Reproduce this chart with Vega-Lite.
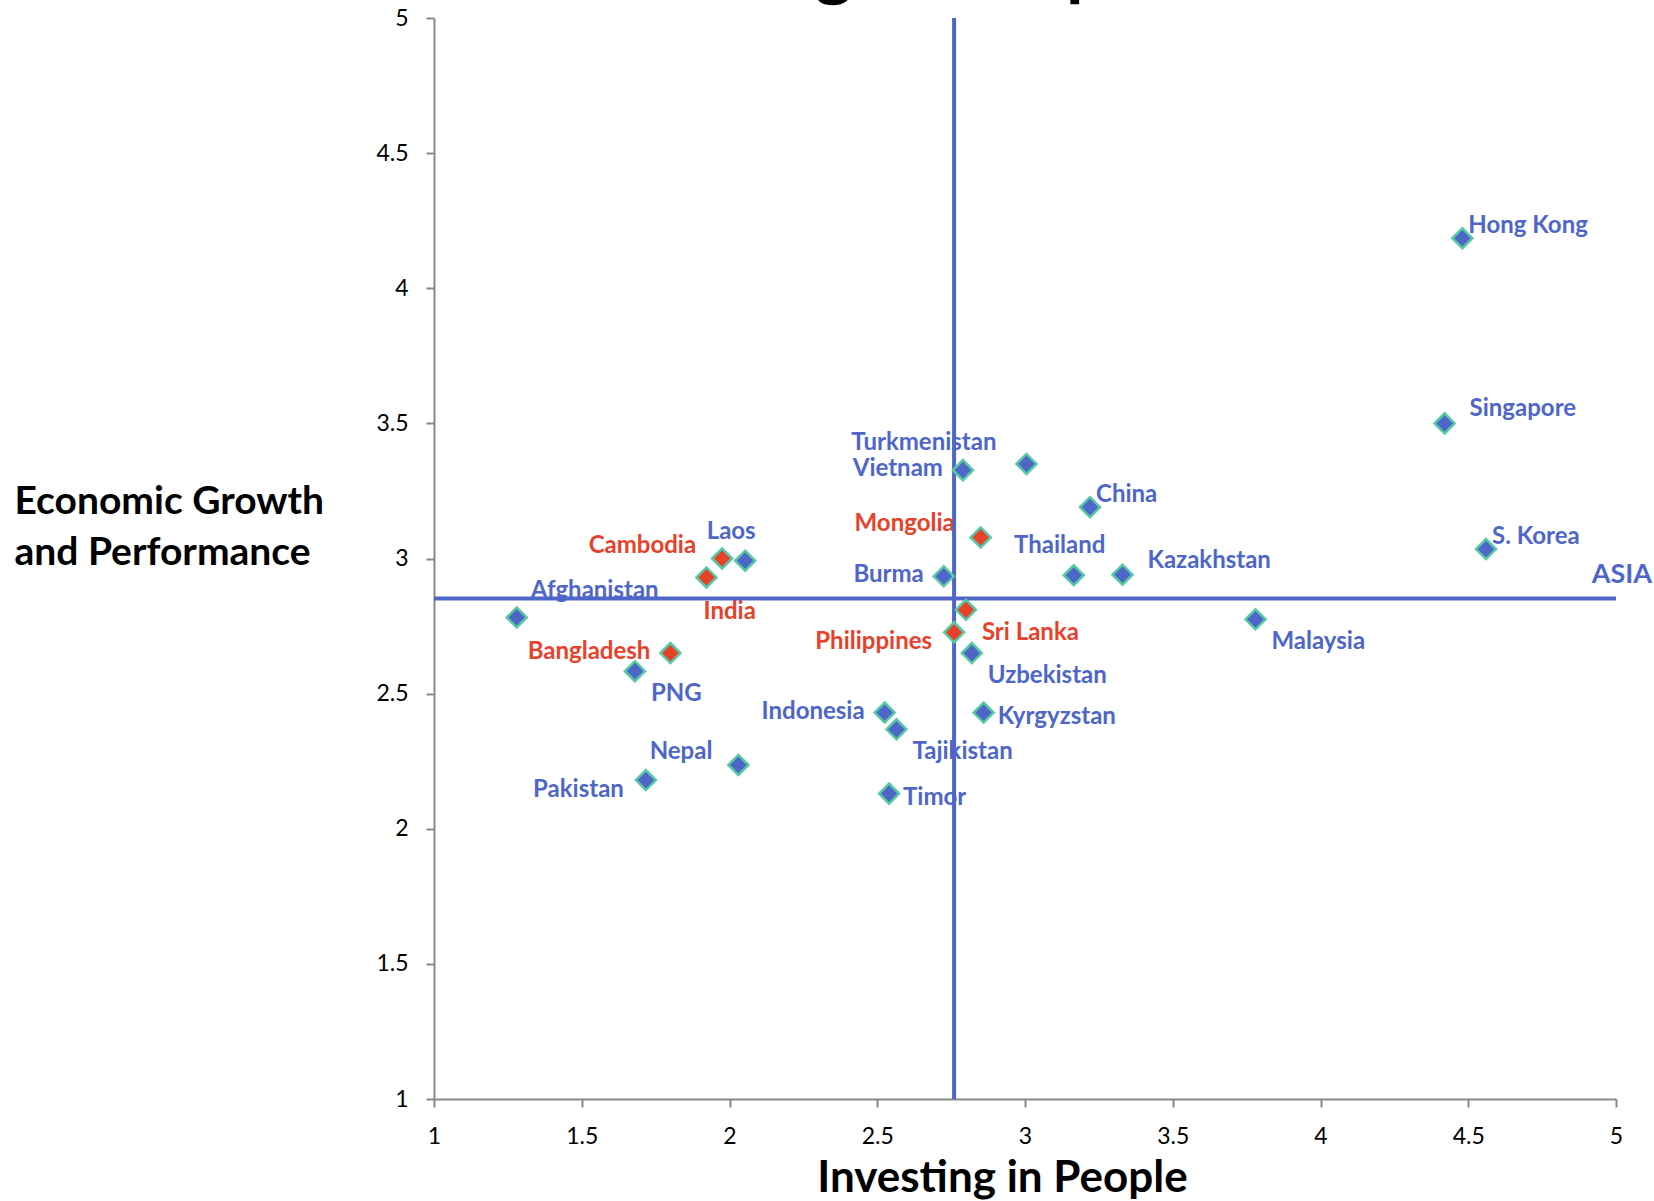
{
  "$schema": "https://vega.github.io/schema/vega-lite/v6.json",
  "width": 1182,
  "height": 1081,
  "autosize": {"type": "none"},
  "padding": {"left": 434, "top": 18, "right": 38, "bottom": 102},
  "title": {
    "text": "Investing in People and Economic Growth",
    "frame": "group",
    "anchor": "start",
    "dx": 130,
    "offset": -56,
    "baseline": "alphabetic",
    "font": "Lato",
    "fontSize": 71,
    "fontWeight": "bold",
    "color": "#000000"
  },
  "datasets": {
    "countries": [
      {"country": "Hong Kong", "investing": 4.48, "growth": 4.185, "group": "other", "labelPos": "ne"},
      {"country": "Singapore", "investing": 4.42, "growth": 3.5, "group": "other", "labelPos": "ne2"},
      {"country": "S. Korea", "investing": 4.56, "growth": 3.035, "group": "other", "labelPos": "ne"},
      {"country": "Malaysia", "investing": 3.78, "growth": 2.775, "group": "other", "labelPos": "se"},
      {"country": "Kazakhstan", "investing": 3.33, "growth": 2.94, "group": "other", "labelPos": "ne2"},
      {"country": "Thailand", "investing": 3.165, "growth": 2.938, "group": "other", "labelPos": "n"},
      {"country": "China", "investing": 3.22, "growth": 3.19, "group": "other", "labelPos": "ne"},
      {"country": "Turkmenistan", "investing": 3.005, "growth": 3.35, "group": "other", "labelPos": "nw2"},
      {"country": "Vietnam", "investing": 2.79, "growth": 3.327, "group": "other", "labelPos": "w"},
      {"country": "Mongolia", "investing": 2.85, "growth": 3.078, "group": "highlight", "labelPos": "nw"},
      {"country": "Burma", "investing": 2.725, "growth": 2.934, "group": "other", "labelPos": "w"},
      {"country": "Sri Lanka", "investing": 2.8, "growth": 2.81, "group": "highlight", "labelPos": "se"},
      {"country": "Philippines", "investing": 2.76, "growth": 2.727, "group": "highlight", "labelPos": "sw"},
      {"country": "Uzbekistan", "investing": 2.82, "growth": 2.65, "group": "other", "labelPos": "se"},
      {"country": "Kyrgyzstan", "investing": 2.86, "growth": 2.43, "group": "other", "labelPos": "e"},
      {"country": "Indonesia", "investing": 2.525, "growth": 2.43, "group": "other", "labelPos": "w"},
      {"country": "Tajikistan", "investing": 2.565, "growth": 2.368, "group": "other", "labelPos": "se"},
      {"country": "Timor", "investing": 2.54, "growth": 2.13, "group": "other", "labelPos": "e"},
      {"country": "Nepal", "investing": 2.03, "growth": 2.236, "group": "other", "labelPos": "nw"},
      {"country": "Pakistan", "investing": 1.717, "growth": 2.18, "group": "other", "labelPos": "sw"},
      {"country": "PNG", "investing": 1.68, "growth": 2.583, "group": "other", "labelPos": "se"},
      {"country": "Bangladesh", "investing": 1.8, "growth": 2.65, "group": "highlight", "labelPos": "w"},
      {"country": "Afghanistan", "investing": 1.28, "growth": 2.782, "group": "other", "labelPos": "nne"},
      {"country": "India", "investing": 1.922, "growth": 2.93, "group": "highlight", "labelPos": "s"},
      {"country": "Cambodia", "investing": 1.975, "growth": 3.0, "group": "highlight", "labelPos": "nw"},
      {"country": "Laos", "investing": 2.053, "growth": 2.992, "group": "other", "labelPos": "n"}
    ],
    "asiaInvesting": [{"investing": 2.76}],
    "asiaGrowth": [{"growth": 2.852, "investing": 5, "label": "ASIA"}]
  },
  "config": {
    "view": {"stroke": null},
    "axis": {
      "grid": false,
      "domainColor": "#898989",
      "domainWidth": 2,
      "tickColor": "#898989",
      "tickWidth": 2,
      "tickSize": 8,
      "labelFont": "Lato",
      "labelFontSize": 23,
      "labelColor": "#000000",
      "labelPadding": 18,
      "labelFlush": false,
      "labelOverlap": false,
      "titleFont": "Lato",
      "titleFontWeight": "bold",
      "titleColor": "#000000"
    },
    "text": {"font": "Lato", "fontWeight": "bold", "fontSize": 24, "baseline": "middle"}
  },
  "layer": [
    {
      "data": {"name": "countries"},
      "transform": [{"filter": "datum.labelPos == 'ne'"}],
      "mark": {"type": "text", "align": "left", "dx": 6, "dy": -12},
      "encoding": {
        "x": {"field": "investing", "type": "quantitative", "title": "Investing in People"},
        "y": {"field": "growth", "type": "quantitative", "title": ["Economic Growth", "and Performance"]},
        "text": {"field": "country"},
        "color": {"field": "group", "type": "nominal", "scale": {"domain": ["other", "highlight"], "range": ["#4E66C8", "#E8412A"]}, "legend": null}
      }
    },
    {
      "data": {"name": "countries"},
      "transform": [{"filter": "datum.labelPos == 'ne2'"}],
      "mark": {"type": "text", "align": "left", "dx": 25, "dy": -14},
      "encoding": {
        "x": {"field": "investing", "type": "quantitative", "title": "Investing in People"},
        "y": {"field": "growth", "type": "quantitative", "title": ["Economic Growth", "and Performance"]},
        "text": {"field": "country"},
        "color": {"field": "group", "type": "nominal", "legend": null}
      }
    },
    {
      "data": {"name": "countries"},
      "transform": [{"filter": "datum.labelPos == 'nne'"}],
      "mark": {"type": "text", "align": "left", "dx": 14, "dy": -26},
      "encoding": {
        "x": {"field": "investing", "type": "quantitative", "title": "Investing in People"},
        "y": {"field": "growth", "type": "quantitative", "title": ["Economic Growth", "and Performance"]},
        "text": {"field": "country"},
        "color": {"field": "group", "type": "nominal", "legend": null}
      }
    },
    {
      "data": {"name": "countries"},
      "transform": [{"filter": "datum.labelPos == 'e'"}],
      "mark": {"type": "text", "align": "left", "dx": 14, "dy": 4},
      "encoding": {
        "x": {"field": "investing", "type": "quantitative", "title": "Investing in People"},
        "y": {"field": "growth", "type": "quantitative", "title": ["Economic Growth", "and Performance"]},
        "text": {"field": "country"},
        "color": {"field": "group", "type": "nominal", "legend": null}
      }
    },
    {
      "data": {"name": "countries"},
      "transform": [{"filter": "datum.labelPos == 'se'"}],
      "mark": {"type": "text", "align": "left", "dx": 16, "dy": 23},
      "encoding": {
        "x": {"field": "investing", "type": "quantitative", "title": "Investing in People"},
        "y": {"field": "growth", "type": "quantitative", "title": ["Economic Growth", "and Performance"]},
        "text": {"field": "country"},
        "color": {"field": "group", "type": "nominal", "legend": null}
      }
    },
    {
      "data": {"name": "countries"},
      "transform": [{"filter": "datum.labelPos == 's'"}],
      "mark": {"type": "text", "align": "left", "dx": -3, "dy": 35},
      "encoding": {
        "x": {"field": "investing", "type": "quantitative", "title": "Investing in People"},
        "y": {"field": "growth", "type": "quantitative", "title": ["Economic Growth", "and Performance"]},
        "text": {"field": "country"},
        "color": {"field": "group", "type": "nominal", "legend": null}
      }
    },
    {
      "data": {"name": "countries"},
      "transform": [{"filter": "datum.labelPos == 'w'"}],
      "mark": {"type": "text", "align": "right", "dx": -20, "dy": -1},
      "encoding": {
        "x": {"field": "investing", "type": "quantitative", "title": "Investing in People"},
        "y": {"field": "growth", "type": "quantitative", "title": ["Economic Growth", "and Performance"]},
        "text": {"field": "country"},
        "color": {"field": "group", "type": "nominal", "legend": null}
      }
    },
    {
      "data": {"name": "countries"},
      "transform": [{"filter": "datum.labelPos == 'sw'"}],
      "mark": {"type": "text", "align": "right", "dx": -22, "dy": 10},
      "encoding": {
        "x": {"field": "investing", "type": "quantitative", "title": "Investing in People"},
        "y": {"field": "growth", "type": "quantitative", "title": ["Economic Growth", "and Performance"]},
        "text": {"field": "country"},
        "color": {"field": "group", "type": "nominal", "legend": null}
      }
    },
    {
      "data": {"name": "countries"},
      "transform": [{"filter": "datum.labelPos == 'nw'"}],
      "mark": {"type": "text", "align": "right", "dx": -26, "dy": -13},
      "encoding": {
        "x": {"field": "investing", "type": "quantitative", "title": "Investing in People"},
        "y": {"field": "growth", "type": "quantitative", "title": ["Economic Growth", "and Performance"]},
        "text": {"field": "country"},
        "color": {"field": "group", "type": "nominal", "legend": null}
      }
    },
    {
      "data": {"name": "countries"},
      "transform": [{"filter": "datum.labelPos == 'nw2'"}],
      "mark": {"type": "text", "align": "right", "dx": -30, "dy": -21},
      "encoding": {
        "x": {"field": "investing", "type": "quantitative", "title": "Investing in People"},
        "y": {"field": "growth", "type": "quantitative", "title": ["Economic Growth", "and Performance"]},
        "text": {"field": "country"},
        "color": {"field": "group", "type": "nominal", "legend": null}
      }
    },
    {
      "data": {"name": "countries"},
      "transform": [{"filter": "datum.labelPos == 'n'"}],
      "mark": {"type": "text", "align": "center", "dx": -14, "dy": -29},
      "encoding": {
        "x": {"field": "investing", "type": "quantitative", "title": "Investing in People"},
        "y": {"field": "growth", "type": "quantitative", "title": ["Economic Growth", "and Performance"]},
        "text": {"field": "country"},
        "color": {"field": "group", "type": "nominal", "legend": null}
      }
    },
    {
      "data": {"name": "asiaGrowth"},
      "mark": {"type": "text", "align": "right", "dx": 36, "dy": -23, "fontSize": 27, "color": "#4E66C8"},
      "encoding": {
        "x": {"field": "investing", "type": "quantitative", "title": "Investing in People"},
        "y": {"field": "growth", "type": "quantitative", "title": ["Economic Growth", "and Performance"]},
        "text": {"field": "label"}
      }
    },
    {
      "data": {"name": "asiaInvesting"},
      "mark": {"type": "rule", "color": "#4E66C8", "strokeWidth": 4},
      "encoding": {
        "x": {"field": "investing", "type": "quantitative", "title": "Investing in People"}
      }
    },
    {
      "data": {"name": "asiaGrowth"},
      "mark": {"type": "rule", "color": "#4E66C8", "strokeWidth": 4},
      "encoding": {
        "y": {"field": "growth", "type": "quantitative", "title": ["Economic Growth", "and Performance"]}
      }
    },
    {
      "data": {"name": "countries"},
      "mark": {"type": "point", "shape": "diamond", "filled": true, "size": 400, "opacity": 1, "stroke": "#55C9A2", "strokeWidth": 2.5},
      "encoding": {
        "x": {
          "field": "investing", "type": "quantitative", "title": "Investing in People",
          "scale": {"domain": [1, 5], "nice": false, "zero": false},
          "axis": {"values": [1, 1.5, 2, 2.5, 3, 3.5, 4, 4.5, 5], "format": "~g", "titleFontSize": 44, "titleX": 568, "titleY": 92, "titleAlign": "center", "titleBaseline": "alphabetic"}
        },
        "y": {
          "field": "growth", "type": "quantitative", "title": ["Economic Growth", "and Performance"],
          "scale": {"domain": [1, 5], "nice": false, "zero": false},
          "axis": {"values": [1, 1.5, 2, 2.5, 3, 3.5, 4, 4.5, 5], "format": "~g", "titleFontSize": 39, "titleAngle": 0, "titleX": -420, "titleY": 495, "titleAlign": "left", "titleBaseline": "alphabetic", "titleLineHeight": 51}
        },
        "color": {"field": "group", "type": "nominal", "legend": null}
      }
    }
  ]
}
